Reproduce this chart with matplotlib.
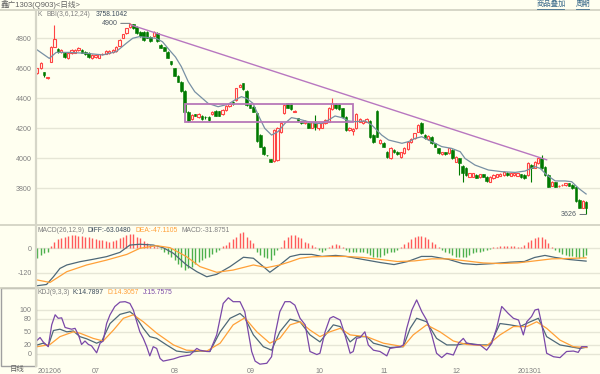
import matplotlib
matplotlib.use("Agg")
import matplotlib.pyplot as plt
from matplotlib.patches import Rectangle
from matplotlib.lines import Line2D

plt.rcParams['font.family'] = ['Liberation Sans', 'Noto Sans CJK SC', 'DejaVu Sans']

BG = '#FFFFF0'
GRID = '#E6E6D6'
RED = '#FF4444'
GREEN = '#007A00'
SLATE = '#4E6878'
ORANGE = '#FFA038'
PURPLE = '#7A48A8'
LABEL = '#808080'

# ---- daily candles (open, close, high, low) ----
opens = [4566, 4600, 4573, 4535, 4644, 4744, 4728, 4711, 4704, 4667,
         4700, 4704, 4722, 4722, 4711, 4704, 4667, 4673, 4671, 4693,
         4698, 4702, 4706, 4715, 4751, 4804, 4833, 4878, 4893, 4878,
         4844, 4844, 4844, 4811, 4817, 4833, 4755, 4740, 4711, 4648,
         4600, 4551, 4511, 4449, 4311, 4262, 4293, 4278, 4282, 4278,
         4278, 4293, 4315, 4315, 4293, 4320, 4349, 4378, 4389, 4478,
         4500, 4449, 4360, 4344, 4300, 4155, 4078, 4022, 3995, 3980,
         3990, 4178, 4300, 4366, 4366, 4312, 4266, 4249, 4233, 4233,
         4204, 4244, 4200, 4204, 4233, 4244, 4329, 4360, 4360, 4333,
         4278, 4189, 4182, 4200, 4244, 4235, 4244, 4249, 4155, 4318,
         4100, 4100, 4044, 4000, 4055, 4044, 4011, 4033, 4062, 4111,
         4133, 4178, 4233, 4155, 4128, 4144, 4100, 4066, 4026, 4040,
         4033, 4055, 3978, 4000, 3950, 3938, 3878, 3878, 3889, 3875,
         3893, 3878, 3844, 3866, 3878, 3884, 3889, 3902, 3884, 3889,
         3884, 3893, 3889, 3889, 3955, 3938, 3966, 4004, 3944, 3889,
         3817, 3840, 3817, 3822, 3822, 3833, 3822, 3811, 3722, 3671,
         3711]
closes = [4600, 4637, 4555, 4540, 4744, 4793, 4706, 4722, 4678, 4700,
          4722, 4722, 4733, 4704, 4695, 4678, 4689, 4689, 4693, 4695,
          4715, 4715, 4722, 4740, 4789, 4826, 4866, 4893, 4866, 4833,
          4817, 4789, 4804, 4782, 4840, 4782, 4737, 4717, 4671, 4626,
          4551, 4511, 4449, 4311, 4249, 4289, 4284, 4293, 4262, 4276,
          4255, 4311, 4284, 4284, 4322, 4351, 4364, 4360, 4467, 4489,
          4462, 4355, 4338, 4311, 4115, 4078, 4026, 4020, 3978, 4189,
          4200, 4233, 4355, 4338, 4329, 4312, 4249, 4233, 4249, 4204,
          4240, 4211, 4233, 4233, 4255, 4333, 4366, 4333, 4329, 4278,
          4189, 4200, 4193, 4293, 4262, 4249, 4262, 4144, 4111, 4144,
          4122, 4078, 4011, 4071, 4040, 4026, 4040, 4071, 4111, 4128,
          4168, 4222, 4168, 4133, 4151, 4100, 4078, 4033, 4040, 4026,
          4066, 4000, 4011, 3966, 3900, 3888, 3900, 3900, 3871, 3893,
          3878, 3849, 3878, 3889, 3893, 3898, 3911, 3889, 3900, 3900,
          3900, 3875, 3866, 3966, 3933, 3978, 4004, 3933, 3889, 3811,
          3844, 3811, 3817, 3822, 3833, 3817, 3800, 3715, 3671, 3715,
          3666]
highs = [4605, 4645, 4578, 4545, 4750, 4888, 4735, 4728, 4710, 4705,
         4727, 4730, 4745, 4728, 4715, 4708, 4693, 4692, 4697, 4700,
         4720, 4720, 4727, 4746, 4795, 4832, 4872, 4900, 4898, 4885,
         4850, 4850, 4848, 4815, 4848, 4840, 4760, 4744, 4715, 4652,
         4604, 4555, 4515, 4455, 4315, 4295, 4297, 4300, 4286, 4282,
         4282, 4315, 4320, 4318, 4326, 4356, 4370, 4382, 4472, 4495,
         4505, 4455, 4365, 4348, 4305, 4160, 4082, 4025, 3998, 4195,
         4211, 4240, 4360, 4370, 4370, 4325, 4270, 4252, 4253, 4238,
         4245, 4289, 4240, 4238, 4260, 4340, 4400, 4370, 4365, 4338,
         4282, 4210, 4200, 4300, 4268, 4255, 4268, 4255, 4160, 4322,
         4128, 4110, 4048, 4076, 4060, 4050, 4044, 4075, 4115, 4133,
         4172, 4228, 4240, 4160, 4155, 4148, 4104, 4070, 4044, 4044,
         4070, 4060, 4015, 4005, 3955, 3942, 3905, 3905, 3893, 3897,
         3897, 3882, 3882, 3893, 3897, 3902, 3915, 3906, 3904, 3904,
         3904, 3897, 3893, 3975, 3960, 3982, 4010, 4022, 3948, 3893,
         3848, 3844, 3822, 3826, 3837, 3837, 3826, 3815, 3726, 3720,
         3715]
lows = [4560, 4595, 4545, 4530, 4640, 4740, 4700, 4705, 4672, 4662,
        4695, 4700, 4718, 4700, 4690, 4672, 4662, 4668, 4667, 4688,
        4694, 4698, 4702, 4711, 4748, 4800, 4830, 4872, 4860, 4828,
        4812, 4782, 4800, 4778, 4812, 4778, 4733, 4713, 4667, 4622,
        4547, 4507, 4445, 4305, 4240, 4258, 4280, 4272, 4258, 4262,
        4252, 4290, 4280, 4280, 4290, 4316, 4345, 4356, 4385, 4474,
        4458, 4350, 4334, 4307, 4110, 4074, 4022, 4015, 3975, 3975,
        3985, 4170, 4295, 4334, 4325, 4310, 4245, 4229, 4229, 4200,
        4200, 4189, 4190, 4200, 4229, 4240, 4325, 4329, 4325, 4273,
        4185, 4180, 4155, 4195, 4240, 4230, 4240, 4138, 4100, 4140,
        4095, 4073, 4005, 3995, 4035, 4020, 4005, 4030, 4058, 4105,
        4128, 4173, 4160, 4128, 4122, 4095, 4073, 4029, 4022, 4022,
        4029, 3995, 3974, 3888, 3845, 3884, 3873, 3873, 3867, 3871,
        3874, 3845, 3840, 3862, 3874, 3880, 3885, 3885, 3880, 3885,
        3880, 3871, 3862, 3880, 3844, 3934, 3962, 3928, 3885, 3807,
        3813, 3807, 3810, 3815, 3818, 3813, 3796, 3711, 3667, 3667,
        3626]

# BBI(3,6,12,24) sampled along the curve (candle index, value)
bbi_idx = [0, 3.5, 5.5, 9.3, 14.2, 19.1, 23, 25.9, 27.8, 29.7, 32.7, 34.6, 36.5,
           38.5, 40.3, 42, 44, 45.9, 49.8, 52.7, 55.6, 57.6, 59.5, 61, 62.9, 64.4,
           66.3, 68.3, 70.2, 72.2, 74.1, 76.1, 79, 81, 83, 84.9, 86.8, 88.8, 90.7,
           92.7, 95.6, 97.5, 100.4, 102.4, 106.3, 108.2, 110.2, 112.1, 114, 116,
           117.9, 120.8, 123.3, 124.7, 127.6, 131.5, 135.4, 139.3, 142.2, 145.1,
           146.6, 148.5, 151, 153.9, 155.8, 157.8, 160]
bbi_val = [4722, 4666, 4706, 4706, 4700, 4689, 4711, 4766, 4800, 4811, 4804, 4800, 4777,
           4722, 4675, 4611, 4511, 4444, 4366, 4344, 4360, 4389, 4411, 4400, 4366, 4289,
           4200, 4155, 4178, 4233, 4271, 4262, 4244, 4233, 4233, 4255, 4282, 4271, 4249,
           4244, 4249, 4222, 4155, 4122, 4100, 4111, 4133, 4144, 4122, 4100,
           4078, 4066, 4044, 3999, 3955, 3922, 3911, 3906, 3915, 3944,
           3933, 3889, 3849, 3849, 3844, 3800, 3762]

trend_idx = [27.3, 148.5]
trend_val = [4889, 3990]
box_idx = [43, 92]
box_val = [4240, 4362]

# ---- MACD(26,12,9) ----
macd_bar = [-49, -33, -25, -16, 13, 33, 46, 53, 58, 62,
            66, 66, 62, 60, 57, 55, 50, 46, 43, 40,
            36, 33, 36, 41, 49, 58, 66, 69, 69, 58,
            49, 36, 25, 16, 12, 8, -5, -16, -30, -45,
            -60, -75, -90, -105, -99, -90, -79, -66, -58, -49,
            -41, -30, -20, -10, 10, 16, 33, 46, 58, 74,
            82, 58, 41, 25, -16, -33, -41, -49, -58, -33,
            -8, 8, 41, 58, 66, 66, 58, 49, 33, 25,
            16, 8, -8, -16, -8, 8, 16, 20, 16, 8,
            -8, -16, -20, -16, -16, -20, -25, -33, -41, -45,
            -41, -33, -25, -20, -16, -8, 8, 20, 33, 45,
            55, 62, 62, 55, 45, 33, 20, 8, -8, -16,
            -25, -33, -41, -45, -45, -41, -33, -25, -20, -16,
            -12, -8, -4, 4, 8, 12, 12, 12, 12, 12,
            8, 8, 16, 30, 41, 50, 58, 55, 45, 25,
            8, -8, -20, -30, -35, -40, -40, -45, -50, -45,
            -32]
diff_idx = [0, 2.7, 4.7, 6.6, 8.6, 12.4, 16.3, 20.2, 24.1, 27, 29.9, 33.8, 36.7,
            39.7, 43.5, 46.5, 49.4, 52.3, 56.2, 60.1, 63, 65.9, 67.8, 70.7, 73.7,
            76.6, 80, 83, 87, 90, 95, 100, 104, 108, 112, 115, 120, 124, 128, 133,
            138, 142, 145, 148, 151, 155, 160]
diff_val = [-184, -178, -140, -99, -82, -66, -54, -41, -20, 16, 20, 16, 3,
            -25, -82, -115, -140, -128, -90, -44, -49, -90, -118, -82, -41,
            -30, -30, -40, -35, -40, -55, -70, -80, -65, -40, -40, -55, -75, -80, -75,
            -68, -65, -45, -35, -45, -55, -63]
dea_idx = [0, 3.7, 8.6, 14.4, 20.2, 26.1, 29.9, 34.8, 38.7, 43.5, 47.4, 52.3, 57.1,
           63, 66.9, 70.7, 73.7, 76.6, 80, 85, 90, 95, 100, 105, 110, 115, 120, 125,
           130, 135, 140, 145, 150, 155, 160]
dea_val = [-156, -168, -115, -82, -58, -30, 0, 13, 3, -41, -90, -118, -107,
           -82, -95, -82, -66, -49, -42, -40, -40, -45, -55, -65, -62, -52, -52, -62,
           -72, -75, -72, -62, -52, -50, -47]

# ---- KDJ(9,3,3) ----
k_idx = [0, 1.7, 3.2, 4.7, 6.6, 8.6, 10.5, 12.4, 14.4, 17.3, 18.8, 21.2, 24.1, 27,
         28.5, 30.9, 32.8, 34.8, 37.7, 40.6, 43.5, 47.4, 50.3, 53.3, 56.2, 59.1,
         60.5, 63, 65.9, 68.3, 70.7, 73.7, 76.6, 79.5, 82.4, 84.4, 86.3, 88.3,
         91.2, 93.1, 96, 98, 102.8, 106.7, 108.7, 110.6, 113.5, 116.4, 119.4,
         122.3, 125.2, 129.1, 132, 134.9, 137.8, 140.7, 143.7, 146.1, 148.5,
         152.4, 158.2, 160.2]
k_val = [20, 24, 18, 53, 56, 50, 52, 39, 34, 24, 29, 69, 90, 96,
         87, 58, 39, 35, 20, 6, 3, 6, 5, 50, 81, 92,
         82, 43, 16, 8, 50, 79, 73, 43, 27, 47, 66, 62,
         27, 39, 39, 24, 14, 16, 58, 81, 73, 35, 20,
         20, 24, 20, 20, 69, 66, 62, 73, 81, 39,
         20, 12, 15]
d_idx = [0, 3.7, 6.6, 10.5, 12.4, 16.3, 19.2, 22.2, 25.1, 28, 30.9, 34.8, 39.7,
         43.5, 49.4, 53.3, 57.1, 60.5, 64, 67.8, 70.7, 73.7, 76.6, 79.5, 82.4,
         85.3, 88.3, 91.2, 96, 100.9, 106.7, 109.6, 113.5, 117.4, 121.3, 125.2,
         131, 134.9, 138.8, 142.7, 145.6, 148.5, 152.4, 156.3, 160.2]
d_val = [16, 21, 39, 50, 47, 35, 29, 54, 81, 89, 73, 47, 20,
         8, 6, 24, 66, 82, 50, 24, 35, 66, 73, 54, 39,
         50, 58, 43, 39, 24, 16, 43, 66, 50, 29, 21,
         18, 43, 62, 62, 73, 58, 31, 16, 14]
j_idx = [0, 0.8, 1.7, 3.2, 4.2, 5.2, 6.1, 7.1, 8.1, 9, 10, 11, 12, 12.9, 13.9, 14.9,
         15.8, 17.3, 18.3, 19.2, 20.2, 21.2, 22.6, 24.1, 25.6, 27, 28, 29, 29.9,
         30.9, 31.9, 32.8, 33.8, 34.8, 35.8, 36.7, 39.7, 41.6, 44.5, 46.5, 47.4,
         49.4, 50.3, 52.3, 53.3, 54.2, 55.7, 57.1, 59.1, 60.5, 61.5, 62.5, 63.5,
         64.9, 66.9, 68.3, 69.3, 70.7, 72.2, 73.7, 75.1, 76.6, 78.1, 79.5, 81.5,
         82.4, 83.9, 85.3, 86.3, 88.3, 89.7, 91.2, 92.1, 93.1, 94.1, 95.5, 96.5,
         98, 99.9, 101.9, 102.8, 105.8, 106.7, 107.7, 109.2, 110.6, 112.1, 113.5,
         115, 116.4, 117.9, 119.4, 121.3, 122.8, 124.2, 125.2, 127.1, 129.1, 131,
         132.5, 133.9, 135.4, 137.3, 138.8, 140.3, 141.7, 142.7, 144.1, 145.1,
         146.1, 147.1, 148.5, 150.5, 152.4, 154.3, 156.3, 157.7, 158.7, 160.2]
j_val = [31, 37, 27, 16, 66, 89, 81, 82, 60, 58, 56, 58, 43, 21, 29, 21,
         18, 2, 24, 29, 69, 89, 108, 118, 119, 115, 100, 73, 50,
         35, 16, -5, 16, 12, -11, -17, -12, -7, -3, 12, 8,
         5, 5, 43, 81, 115, 128, 119, 119, 96, 50, 5, -17,
         -24, -22, -7, 43, 96, 119, 119, 111, 81, 66, 5, -2,
         1, 50, 81, 85, 77, 43, 1, 5, 35, 37, 50, 20,
         8, 5, -5, 12, 16, 20, 58, 100, 123, 96, 77,
         43, 1, -9, 1, -3, 24, 35, 24, 21, 20, 8,
         24, 58, 108, 92, 81, 77, 43, 73, 85, 100,
         102, 66, 1, -7, -9, 5, 6, 3, 16, 16]

month_idx = [0, 16, 39, 61, 81, 100, 121, 140]
month_lbl = ['201206', '07', '08', '09', '10', '11', '12', '201301']

price_ticks = [3800, 4000, 4200, 4400, 4600, 4800]
macd_ticks = [-120, 0]
kdj_ticks = [0, 20, 50, 80, 100]

W, H = 600, 374
fig = plt.figure(figsize=(W / 100, H / 100), dpi=100, facecolor=BG)


def rect(x0, y0, x1, y1):
    return [x0 / W, 1 - y1 / H, (x1 - x0) / W, (y1 - y0) / H]


XL = (-0.38, 164.05)
FS = 4.9


def style(ax, ticks, ylim):
    ax.set_facecolor(BG)
    ax.set_xlim(*XL)
    ax.set_ylim(*ylim)
    ax.set_yticks(ticks)
    ax.set_yticklabels([str(t) for t in ticks])
    ax.tick_params(axis='y', length=0, pad=3, labelsize=FS + 0.2, labelcolor=LABEL)
    ax.tick_params(axis='x', length=0, labelbottom=False)
    ax.grid(axis='y', color=GRID, lw=1)
    ax.set_axisbelow(True)
    for s in ax.spines.values():
        s.set_visible(False)


# main panel
ax = fig.add_axes(rect(36, 11, 600, 224))
style(ax, price_ticks, (3562, 4982))
n = len(opens)
xs = list(range(n))
ax.vlines(xs, lows, highs, colors=[RED if c >= o else GREEN for o, c in zip(opens, closes)],
          lw=0.8, zorder=2)
for i in xs:
    o, c = opens[i], closes[i]
    lo, hi = min(o, c), max(o, c)
    if c >= o:
        ax.add_patch(Rectangle((i - 0.33, lo), 0.66, max(hi - lo, 1), facecolor=BG,
                               edgecolor=RED, lw=0.8, zorder=3))
    else:
        ax.add_patch(Rectangle((i - 0.38, lo), 0.76, max(hi - lo, 1), facecolor=GREEN,
                               edgecolor=GREEN, lw=0.4, zorder=3))
ax.plot(bbi_idx, bbi_val, color='#7890A4', lw=0.9, zorder=4)
ax.plot(trend_idx, trend_val, color='#B877C0', lw=1, zorder=4)
ax.add_patch(Rectangle((box_idx[0], box_val[0]), box_idx[1] - box_idx[0], box_val[1] - box_val[0],
                       facecolor='none', edgecolor='#B878B8', lw=1.3, zorder=5))
hi_i = highs.index(max(highs))
lo_i = lows.index(min(lows))
ax.annotate(str(max(highs)), xy=(hi_i, max(highs)), xytext=(-12, 0), textcoords='offset pixels',
            ha='right', va='center', fontsize=FS + 0.2, color='#505A64',
            arrowprops=dict(arrowstyle='-', color='#505A64', lw=0.6, shrinkA=0, shrinkB=0))
ax.annotate(str(min(lows)), xy=(lo_i, min(lows)), xytext=(-9, 0), textcoords='offset pixels',
            ha='right', va='center', fontsize=FS + 0.2, color='#505A64',
            arrowprops=dict(arrowstyle='-', color='#505A64', lw=0.6, shrinkA=0, shrinkB=0))

# MACD panel
am = fig.add_axes(rect(36, 227, 600, 287))
style(am, macd_ticks, (-190.4, 104.8))
am.vlines(xs, 0, macd_bar, colors=['#FF5A5A' if v > 0 else '#4CB04C' for v in macd_bar], lw=1)
am.plot(diff_idx, diff_val, color=SLATE, lw=0.9)
am.plot(dea_idx, dea_val, color=ORANGE, lw=0.9)

# KDJ panel
ak = fig.add_axes(rect(36, 288, 600, 365))
style(ak, kdj_ticks, (-25.9, 150.3))
ak.plot(k_idx, k_val, color=SLATE, lw=0.9)
ak.plot(d_idx, d_val, color=ORANGE, lw=0.9)
ak.plot(j_idx, j_val, color=PURPLE, lw=0.9)
ak.set_xticks(month_idx)
ak.set_xticklabels(month_lbl, ha='left')
ak.tick_params(axis='x', labelbottom=True, labelsize=FS + 0.2, labelcolor=LABEL, pad=2)

# frame lines
def hline(y, x0=0, x1=W, c='#CFCFC0', lw=1.2):
    fig.add_artist(Line2D([x0 / W, x1 / W], [1 - y / H, 1 - y / H], color=c, lw=lw))


def vline(x, y0, y1, c='#D6D6C8', lw=1.6):
    fig.add_artist(Line2D([x / W, x / W], [1 - y0 / H, 1 - y1 / H], color=c, lw=lw))


hline(10)
hline(225)
hline(287.5)
vline(36, 10, 366)
fig.add_artist(Rectangle((1 / W, 1 - 366 / H), 35 / W, 78 / H, transform=fig.transFigure,
                         facecolor='none', edgecolor='#A0A0A0', lw=1))


def ftext(x, y, s, c, size=FS, **kw):
    fig.text(x / W, 1 - y / H, s, color=c, fontsize=size, va='center', ha='left', **kw)


ftext(1, 5, '鑫广1303(Q903)<日线>', '#606060', size=5.5)
ftext(537, 4.5, '商品叠加', '#3C6C8C', size=5.3)
ftext(576, 4.5, '周期', '#3C6C8C', size=5.3)
hline(8.5, 537, 564, c='#3C6C8C', lw=0.6)
hline(8.5, 576, 589, c='#3C6C8C', lw=0.6)

ftext(37, 15, 'K', LABEL)
ftext(46.5, 15, 'BBI(3,6,12,24)', LABEL)
ftext(96, 15, '3758.1042', '#3A4A5A')
ftext(37, 230.5, 'MACD(26,12,9)', LABEL)
ftext(88, 230.5, 'DIFF:-63.0480', '#3A4A5A')
ftext(135, 230.5, 'DEA:-47.1105', ORANGE)
ftext(181, 230.5, 'MACD:-31.8751', LABEL)
ftext(37, 292.5, 'KDJ(9,3,3)', LABEL)
ftext(72.5, 292.5, 'K:14.7897', '#3A4A5A')
ftext(108, 292.5, 'D:14.3057', ORANGE)
ftext(143, 292.5, 'J:15.7575', PURPLE)
ftext(10, 370, '日线', '#606060', size=5.3)

fig.savefig('out.png', dpi=100, facecolor=BG)
